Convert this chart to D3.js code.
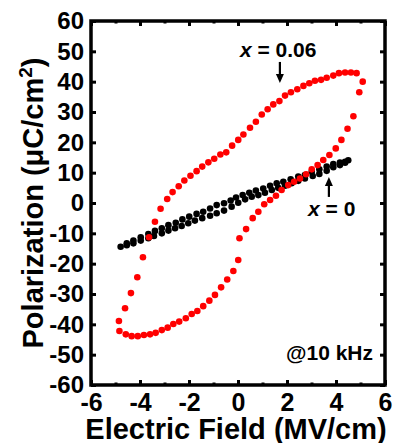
<!DOCTYPE html>
<html>
<head>
<meta charset="utf-8">
<script src="https://cdn.jsdelivr.net/npm/d3@7"></script>
<style>
  body { margin: 0; background: #fff; }
  svg { display: block; font-family: 'Liberation Sans', Arial, sans-serif; font-weight: bold; }
</style>
</head>
<body>
<svg width="393" height="443"></svg>
<script>
// [E (MV/cm), P (uC/cm2)]
const redUpper = [[5.09, 40.0], [4.84, 42.8], [4.61, 43.0], [4.37, 43.0], [4.12, 42.8], [3.89, 42.0], [3.62, 41.3], [3.39, 40.6],
  [3.14, 40.3], [2.91, 39.5], [2.67, 38.6], [2.42, 37.5], [2.16, 36.5], [1.92, 35.4], [1.69, 33.6], [1.44, 32.5], [1.21, 30.9],
  [0.97, 29.2], [0.73, 26.8], [0.49, 24.8], [0.22, 22.6], [0.01, 20.8], [-0.24, 18.9], [-0.48, 16.7], [-0.72, 16.0], [-0.97, 14.6],
  [-1.21, 13.4], [-1.46, 12.0], [-1.69, 10.5], [-1.94, 9.0], [-2.19, 7.4], [-2.42, 5.5], [-2.67, 3.6], [-2.89, 1.3], [-3.16, -1.9],
  [-3.39, -6.2], [-3.63, -11.3], [-3.88, -17.9], [-4.11, -24.5], [-4.37, -29.7], [-4.61, -34.7], [-4.86, -38.9]]
const redLower = [[-4.84, -42.2], [-4.58, -43.3], [-4.34, -43.9], [-4.09, -43.9], [-3.84, -43.5], [-3.59, -43.3], [-3.36, -42.8],
  [-3.11, -41.9], [-2.87, -41.1], [-2.64, -39.9], [-2.40, -39.1], [-2.13, -38.0], [-1.89, -36.6], [-1.66, -35.6], [-1.42, -34.0],
  [-1.17, -32.2], [-0.94, -30.3], [-0.69, -27.8], [-0.44, -25.2], [-0.19, -22.4], [0.01, -18.8], [0.06, -11.6], [0.33, -8.6],
  [0.60, -5.0], [0.83, -2.9], [1.07, -0.4], [1.31, 1.0], [1.55, 2.4], [1.78, 4.3], [2.05, 5.9], [2.29, 7.0], [2.53, 8.1],
  [2.78, 9.5], [3.01, 11.1], [3.25, 12.5], [3.48, 14.2], [3.73, 15.8], [3.99, 18.0], [4.22, 20.8], [4.47, 24.5], [4.71, 28.6], [4.95, 36.5]]
const blackUpper = [[4.50, 14.1], [4.37, 13.6], [4.16, 13.3], [3.89, 12.8], [3.62, 12.0], [3.32, 11.1], [3.01, 10.3], [2.73, 9.2],
  [2.46, 8.7], [2.15, 7.8], [1.85, 7.0], [1.58, 6.5], [1.31, 5.7], [1.03, 4.8], [0.73, 4.1], [0.46, 3.4], [0.19, 2.6], [-0.08, 1.8],
  [-0.30, 0.8], [-0.57, -0.1], [-0.87, -0.7], [-1.14, -1.8], [-1.42, -2.9], [-1.69, -3.6], [-1.99, -4.5], [-2.27, -5.4],
  [-2.54, -6.5], [-2.84, -7.3], [-3.11, -8.3], [-3.39, -9.2], [-3.66, -10.2], [-3.97, -11.3], [-4.27, -12.4], [-4.54, -13.3]]
const blackLower = [[-4.79, -14.4], [-4.54, -13.9], [-4.27, -13.3], [-3.97, -12.4], [-3.66, -11.6], [-3.43, -10.9], [-3.11, -10.0],
  [-2.84, -9.1], [-2.57, -8.3], [-2.30, -7.6], [-2.03, -6.7], [-1.76, -5.8], [-1.46, -5.0], [-1.14, -4.2], [-0.87, -3.4],
  [-0.57, -2.5], [-0.26, -1.2], [0.01, 0.1], [0.29, 1.2], [0.56, 2.1], [0.83, 2.6], [1.10, 3.4], [1.38, 4.3], [1.64, 5.0],
  [1.92, 5.7], [2.19, 6.5], [2.46, 7.3], [2.73, 8.1], [3.05, 8.9], [3.32, 9.6], [3.62, 10.6], [3.89, 11.8], [4.16, 12.5], [4.37, 13.3]]

const xTicks = [-6, -4, -2, 0, 2, 4, 6]
const xMinorTicks = [-5, -3, -1, 1, 3, 5]
const yTicks = [-60, -50, -40, -30, -20, -10, 0, 10, 20, 30, 40, 50, 60]

const margin = { top: 21, right: 8, bottom: 58, left: 91 }
const width = 393
const height = 443

const svg = d3.select('svg')

const x = d3.scaleLinear().domain([-6, 6]).range([margin.left, width - margin.right])
const y = d3.scaleLinear().domain([-60, 60]).range([height - margin.bottom, margin.top])

// plain hyphen for negatives, as in the figure
const fmt = d => String(d)

const tickStyle = g => g
  .call(g => g.select('.domain').remove())
  .call(g => g.selectAll('.tick line').attr('stroke-width', 3))

// axes, ticks pointing inward
svg.append('g')
  .attr('transform', `translate(0,${y(-60)})`)
  .call(d3.axisBottom(x).tickValues(xTicks).tickSize(-5).tickFormat(fmt))
  .call(tickStyle)
  .call(g => g.selectAll('.tick text').attr('y', 26).attr('dy', 0)
    .attr('font-size', 25).attr('font-weight', 'bold').attr('font-family', 'Liberation Sans, Arial, sans-serif'))

svg.append('g')
  .attr('transform', `translate(0,${y(-60)})`)
  .call(d3.axisBottom(x).tickValues(xMinorTicks).tickSize(-2.5).tickFormat(''))
  .call(tickStyle)

svg.append('g')
  .attr('transform', `translate(0,${y(60)})`)
  .call(d3.axisTop(x).tickValues(xTicks).tickSize(-5).tickFormat(''))
  .call(tickStyle)

svg.append('g')
  .attr('transform', `translate(0,${y(60)})`)
  .call(d3.axisTop(x).tickValues(xMinorTicks).tickSize(-2.5).tickFormat(''))
  .call(tickStyle)

svg.append('g')
  .attr('transform', `translate(${x(-6)},0)`)
  .call(d3.axisLeft(y).tickValues(yTicks).tickSize(-5).tickPadding(7).tickFormat(fmt))
  .call(tickStyle)
  .call(g => g.selectAll('.tick text')
    .attr('font-size', 24).attr('font-weight', 'bold').attr('font-family', 'Liberation Sans, Arial, sans-serif'))

svg.append('g')
  .attr('transform', `translate(${x(6)},0)`)
  .call(d3.axisRight(y).tickValues(yTicks).tickSize(-5).tickFormat(''))
  .call(tickStyle)

// frame
svg.append('rect')
  .attr('x', x(-6))
  .attr('y', y(60))
  .attr('width', x(6) - x(-6))
  .attr('height', y(-60) - y(60))
  .attr('fill', 'none')
  .attr('stroke', '#000')
  .attr('stroke-width', 3.5)

// loops
const loops = [
  { color: '#000', points: blackUpper.concat(blackLower) },
  { color: '#ff0000', points: redUpper.concat(redLower) }
]

loops.forEach(loop => {
  svg.append('g')
    .selectAll('circle')
    .data(loop.points)
    .join('circle')
    .attr('cx', d => x(d[0]))
    .attr('cy', d => y(d[1]))
    .attr('r', 3.3)
    .attr('fill', loop.color)
})

// annotations
const arrow = (xv, from, to) => {
  const dir = Math.sign(y(to) - y(from))
  svg.append('line')
    .attr('x1', x(xv)).attr('x2', x(xv))
    .attr('y1', y(from)).attr('y2', y(to) - dir * 6)
    .attr('stroke', '#000').attr('stroke-width', 2.2)
  svg.append('path')
    .attr('d', `M${x(xv)},${y(to)} L${x(xv) - 4},${y(to) - dir * 9} L${x(xv) + 4},${y(to) - dir * 9} Z`)
    .attr('fill', '#000')
}

arrow(1.71, 46.5, 39.6)
arrow(3.71, 2.0, 8.6)

const label = (xv, yv, anchor, parts) => {
  const t = svg.append('text')
    .attr('x', x(xv)).attr('y', y(yv))
    .attr('text-anchor', anchor)
    .attr('font-size', 21)
  parts.forEach(p => t.append('tspan').attr('font-style', p[1] ? 'italic' : 'normal').text(p[0]))
}

label(0.08, 48.1, 'start', [['x', true], [' = 0.06', false]])
label(2.86, -4.3, 'start', [['x', true], [' = 0', false]])
label(5.51, -51.8, 'end', [['@10 kHz', false]])

// axis titles
svg.append('text')
  .attr('x', (x(-6) + x(6)) / 2 - 2)
  .attr('y', 439)
  .attr('text-anchor', 'middle')
  .attr('font-size', 29)
  .text('Electric Field (MV/cm)')

const yTitle = svg.append('text')
  .attr('transform', `translate(43,${y(0)}) rotate(-90)`)
  .attr('text-anchor', 'middle')
  .attr('font-size', 29)
yTitle.append('tspan').text('Polarization (μC/cm')
yTitle.append('tspan').attr('font-size', 19).attr('dy', -11).text('2')
yTitle.append('tspan').attr('dy', 11).text(')')
</script>
</body>
</html>
